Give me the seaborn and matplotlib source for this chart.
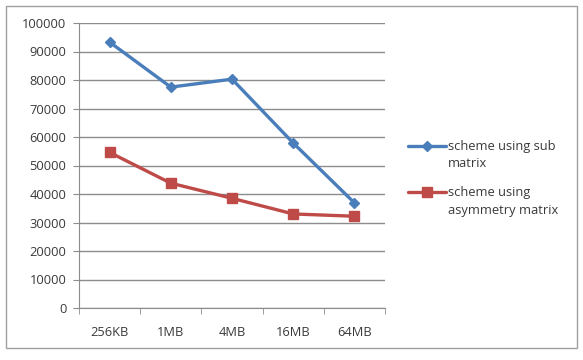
import numpy as np
import pandas as pd
import matplotlib.pyplot as plt
import seaborn as sns
from matplotlib.patches import Rectangle
from matplotlib.legend_handler import HandlerLine2D
from matplotlib.transforms import Affine2D

sizes = ["256KB", "1MB", "4MB", "16MB", "64MB"]
sub_matrix = [93300, 77500, 80300, 57900, 36900]
asym_matrix = [54600, 43800, 38500, 33000, 32200]
yticks = list(range(0, 100001, 10000))
labels = ["scheme using sub\nmatrix", "scheme using\nasymmetry matrix"]
colors = ["#4A7EBB", "#BE4B48"]


class TopHandler(HandlerLine2D):
    # put the legend marker at the first text line, like Excel
    def create_artists(self, legend, orig_handle, xdescent, ydescent,
                       width, height, fontsize, trans):
        trans = Affine2D().translate(0, 0.75 * fontsize) + trans
        return super().create_artists(legend, orig_handle, xdescent, ydescent,
                                      width, height, fontsize, trans)


sns.set_style("white")
plt.rcParams["font.family"] = ["Open Sans", "DejaVu Sans"]

fig = plt.figure(figsize=(5.83, 3.6), dpi=100)
ax = fig.add_axes([79 / 583, 1 - 308 / 360, (385 - 79) / 583, (308 - 23) / 360])

x = np.arange(len(sizes))
ax.plot(x, sub_matrix, color=colors[0], lw=2.4, marker="D", ms=5.5, label=labels[0])
ax.plot(x, asym_matrix, color=colors[1], lw=2.4, marker="s", ms=7.5, label=labels[1])

ax.set_xlim(-0.5, len(sizes) - 0.5)
ax.set_ylim(0, 100000)
ax.set_yticks(yticks)
ax.set_yticklabels([str(v) for v in yticks], fontsize=9.3, color="#3a3a3a")
ax.set_xticks(x)
ax.set_xticklabels(sizes, fontsize=9.3, color="#3a3a3a")
ax.yaxis.grid(True, color="#8c8c8c", lw=1)
ax.set_axisbelow(True)
for s in ["top", "right"]:
    ax.spines[s].set_visible(False)
for s in ["left", "bottom"]:
    ax.spines[s].set_color("#8c8c8c")
ax.tick_params(axis="y", length=4, color="#8c8c8c", left=True, pad=5)
ax.tick_params(axis="x", length=0, pad=13)
# category boundary ticks
ax.set_xticks(np.arange(-0.5, len(sizes)), minor=True)
ax.tick_params(axis="x", which="minor", length=4, color="#8c8c8c", bottom=True)

leg = ax.legend(loc="center left", bbox_to_anchor=(1.038, 0.455), frameon=False,
                fontsize=9.3, handlelength=2.9, handletextpad=0.15,
                labelspacing=1.25, handler_map={plt.Line2D: TopHandler()})
for t in leg.get_texts():
    t.set_color("#3a3a3a")
    t.set_linespacing(1.45)

fig.patches.append(Rectangle((6 / 583, 1 - 348 / 360), 571 / 583, 342 / 360,
                             transform=fig.transFigure, fill=False,
                             edgecolor="#a0a0a0", lw=1))

fig.savefig("out.png", dpi=100, facecolor="white")
